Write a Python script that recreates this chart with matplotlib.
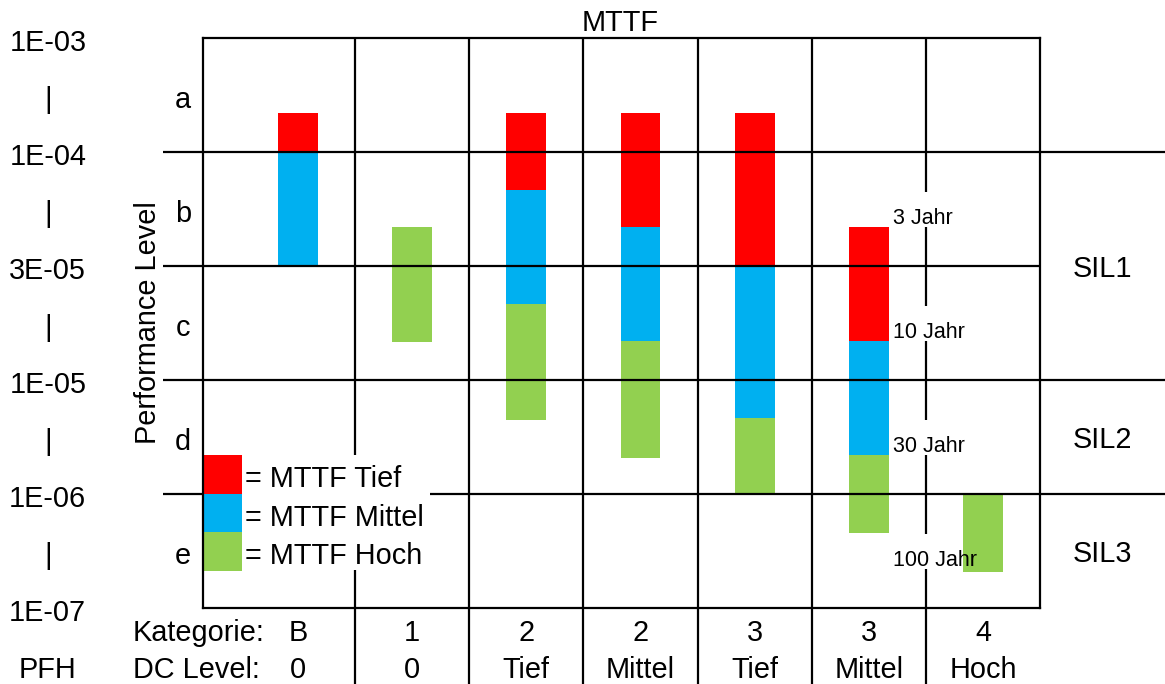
import matplotlib
matplotlib.use("Agg")
import matplotlib.pyplot as plt
import numpy as np
from matplotlib.patches import Rectangle

plt.rcParams['font.family'] = ['Liberation Sans', 'DejaVu Sans']

# ---------------- data ----------------
kategorie = ["B", "1", "2", "2", "3", "3", "4"]
dc_level = ["0", "0", "Tief", "Mittel", "Tief", "Mittel", "Hoch"]
# PFH labels at the band boundaries, bottom to top
pfh_labels = ["1E-07", "1E-06", "1E-05", "3E-05", "1E-04", "1E-03"]
# Performance level bands, bottom to top
pl_labels = ["e", "d", "c", "b", "a"]
sil_labels = ["SIL3", "SIL2", "SIL1"]
sil_pos = [0.5, 1.5, 3.0]
mttf_years = ["100 Jahr", "30 Jahr", "10 Jahr", "3 Jahr"]
mttf_year_pos = [0.45, 1.45, 2.45, 3.45]

nan = np.nan
# bar ranges on the PL band scale (0 = 1E-07 ... 5 = 1E-03)
tief_top = [4.34, nan, 4.34, 4.34, 4.34, 3.34, nan]
tief_bottom = [4.00, nan, 3.67, 3.34, 3.00, 2.34, nan]
mittel_top = [4.00, nan, 3.67, 3.34, 3.00, 2.34, nan]
mittel_bottom = [3.00, nan, 2.67, 2.34, 1.67, 1.34, nan]
hoch_top = [nan, 3.34, 2.67, 2.34, 1.67, 1.34, 1.00]
hoch_bottom = [nan, 2.33, 1.65, 1.32, 1.00, 0.66, 0.32]

series = [
    ("MTTF Tief", "#FF0000", tief_bottom, tief_top),
    ("MTTF Mittel", "#00B0F0", mittel_bottom, mittel_top),
    ("MTTF Hoch", "#92D050", hoch_bottom, hoch_top),
]

# ---------------- figure ----------------
W, H = 1165, 684
fig = plt.figure(figsize=(W / 100, H / 100), dpi=100)
ax = fig.add_axes([203 / W, 76 / H, 837 / W, 570 / H])
ax.set_xlim(-0.833, 6.5)
ax.set_ylim(0, 5)
ax.set_xticks([])
ax.set_yticks([])
for sp in ax.spines.values():
    sp.set_linewidth(1.6)
    sp.set_color("black")
    sp.set_zorder(7)

LW = 1.6
FS = 20.8
DY = -0.03    # small downward nudge for text baselines
DYL = -0.045  # left column
x = np.arange(len(kategorie))

# bars
for name, color, bot, top in series:
    bot = np.asarray(bot, float)
    top = np.asarray(top, float)
    m = np.isfinite(bot) & np.isfinite(top)
    ax.bar(x[m], top[m] - bot[m], bottom=bot[m], width=0.35, color=color,
           linewidth=0, zorder=3)

# horizontal band lines (the 3E-05 line stops at the frame)
for k in range(1, 5):
    xr = 6.5 if k == 3 else 8
    ax.plot([-1.184, xr], [k, k], color="black", lw=LW, clip_on=False,
            zorder=4, solid_capstyle="butt")

# vertical column lines
bounds = np.arange(len(kategorie) - 1) + 0.5
for b in bounds[:-1]:
    ax.plot([b, b], [5, -1], color="black", lw=LW, clip_on=False, zorder=1,
            solid_capstyle="butt")
# last boundary is interrupted by the MTTF year labels
gaps = sorted([(p - 0.11, p + 0.2) for p in mttf_year_pos])
segs = []
cur = -1.0
for g0, g1 in gaps:
    segs.append((cur, g0))
    cur = g1
segs.append((cur, 5))
for s0, s1 in segs:
    ax.plot([bounds[-1]] * 2, [s0, s1], color="black", lw=LW, clip_on=False,
            zorder=1, solid_capstyle="butt")
for lab, p in zip(mttf_years, mttf_year_pos):
    ax.text(5.21, p + DY, lab, fontsize=15.5, ha="left", va="center", zorder=6)

# left PFH scale
for k, lab in enumerate(pfh_labels):
    ax.text(-2.193, k + DYL, lab, fontsize=FS, ha="center", va="center", clip_on=False)
for k in range(len(pl_labels)):
    ax.text(-2.193, k + 0.5 + DYL, "|", fontsize=FS, ha="center", va="center", clip_on=False)
for k, lab in enumerate(pl_labels):
    ax.text(-1.009, k + 0.5 + DYL, lab, fontsize=FS, ha="center", va="center", clip_on=False)
ax.text(-1.316, 2.5, "Performance Level", fontsize=FS, rotation=90,
        ha="center", va="center", clip_on=False)
ax.text(2.825, 5.16 + DY, "MTTF", fontsize=FS, ha="center", va="center", clip_on=False)

# SIL labels
for lab, p in zip(sil_labels, sil_pos):
    ax.text(7.05, p + DY, lab, fontsize=FS, ha="center", va="center", clip_on=False)

# bottom rows
ax.text(-1.447, -0.19 + DY, "Kategorie:", fontsize=FS, ha="left", va="center", clip_on=False)
ax.text(-1.447, -0.51 + DY, "DC Level:", fontsize=FS, ha="left", va="center", clip_on=False)
ax.text(-2.193, -0.51 + DY, "PFH", fontsize=FS, ha="center", va="center", clip_on=False)
for i, (k, d) in enumerate(zip(kategorie, dc_level)):
    ax.text(i, -0.19 + DY, k, fontsize=FS, ha="center", va="center", clip_on=False)
    ax.text(i, -0.51 + DY, d, fontsize=FS, ha="center", va="center", clip_on=False)

# legend (white box with colored squares)
ax.add_patch(Rectangle((0.0, 0.0667), 0.271, 0.2015, transform=ax.transAxes,
                       facecolor="white", edgecolor="none", zorder=5))
ph = 38.5 / 570
pw = 39 / 837
ytop = (608 - 455) / 570
for j, (name, color, _, _) in enumerate(series):
    y0 = ytop - (j + 1) * ph
    ax.add_patch(Rectangle((0.0, y0), pw, ph, transform=ax.transAxes,
                           facecolor=color, edgecolor="none", zorder=6))
    ax.text(pw + 3 / 837, y0 + ph / 2 - 5 / 570, "= " + name, transform=ax.transAxes,
            fontsize=FS, ha="left", va="center", zorder=6)

fig.savefig("out.png", dpi=100, facecolor="white")
